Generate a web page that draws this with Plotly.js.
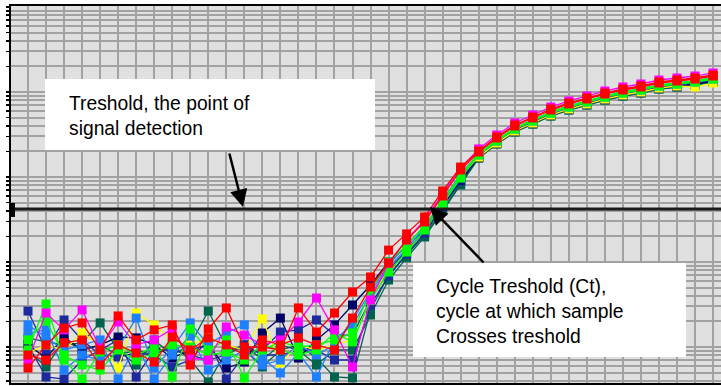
<!DOCTYPE html>
<html>
<head>
<meta charset="utf-8">
<script src="https://cdn.plot.ly/plotly-3.0.1.min.js"></script>
<style>
  html, body { margin: 0; padding: 0; background: #ffffff; }
  #chart { width: 721px; height: 386px; }
</style>
</head>
<body>
<div id="chart"></div>
<script>
// PCR cycle numbers
const cycles = [1,2,3,4,5,6,7,8,9,10,11,12,13,14,15,16,17,18,19,20,21,22,23,24,25,26,27,28,29,30,31,32,33,34,35,36,37,38,39];

// Fluorescence (delta Rn) per sample
const redA = [0.000566,0.00106,0.00167,0.00192,0.000922,0.00232,0.00121,0.00159,0.00182,0.000614,0.00163,0.00288,0.001,0.001,0.000922,0.00288,0.0015,0.00251,0.00444,0.00666,0.0138,0.0214,0.0339,0.0685,0.131,0.202,0.296,0.409,0.508,0.631,0.742,0.85,0.973,1.085,1.177,1.311,1.384,1.461,1.585];
const redB = [0.000805,0.000703,0.00112,0.00121,0.000614,0.00106,0.00085,0.000666,0.00131,0.000922,0.00128,0.00106,0.000805,0.00121,0.00106,0.00128,0.00106,0.000922,0.00219,0.00508,0.00973,0.0182,0.0296,0.0598,0.121,0.197,0.288,0.398,0.495,0.614,0.723,0.827,0.947,1.056,1.145,1.276,1.347,1.422,1.542];
const magentaA = [0.000703,0.00251,0.00159,0.00273,0.000973,0.00197,0.00106,0.00121,0.00163,0.000742,0.000703,0.00172,0.00138,0.00106,0.00121,0.00197,0.00377,0.00159,0.000582,0.00357,0.00973,0.0182,0.0312,0.0631,0.128,0.214,0.312,0.432,0.536,0.666,0.784,0.897,1.027,1.145,1.242,1.384,1.461,1.542,1.674];
const greenA = [0.000922,0.00321,0.000703,0.00042,0.000873,0.00106,0.000805,0.001,0.000444,0.00163,0.000922,0.00121,0.000432,0.000922,0.00115,0.001,0.00106,0.00121,0.00146,0.00469,0.01,0.0159,0.0265,0.0536,0.106,0.187,0.273,0.377,0.469,0.582,0.685,0.784,0.897,1.0,1.085,1.209,1.276,1.347,1.461];
const greenB = [0.00121,0.00202,0.000805,0.000614,0.000536,0.000922,0.000703,0.00085,0.00106,0.001,0.000805,0.000873,0.000703,0.00106,0.000922,0.000805,0.000922,0.00146,0.00115,0.00357,0.00763,0.0131,0.0238,0.0481,0.0973,0.182,0.265,0.367,0.456,0.566,0.666,0.763,0.873,0.973,1.056,1.177,1.242,1.311,1.422];
const blueA = [0.00146,0.00159,0.000536,0.000805,0.000703,0.000973,0.00219,0.000566,0.000973,0.00192,0.00106,0.00146,0.00182,0.000742,0.000495,0.00085,0.000444,0.00121,0.00182,0.00409,0.0085,0.0146,0.0251,0.0495,0.1,0.182,0.265,0.367,0.456,0.566,0.666,0.763,0.873,0.973,1.056,1.177,1.242,1.311,1.422];
const blueB = [0.00182,0.00128,0.000922,0.00106,0.00121,0.00042,0.00106,0.00042,0.000805,0.00135,0.000536,0.000703,0.000922,0.000614,0.000703,0.00106,0.000805,0.00106,0.00208,0.00444,0.00922,0.0159,0.0265,0.0536,0.109,0.187,0.273,0.377,0.469,0.582,0.685,0.784,0.897,1.0,1.085,1.209,1.276,1.347,1.461];
const navyA = [0.00106,0.000742,0.00131,0.000922,0.00106,0.00131,0.00128,0.00106,0.000742,0.000922,0.00106,0.000566,0.000666,0.00146,0.00219,0.000742,0.00121,0.00182,0.00312,0.00536,0.01,0.0154,0.0238,0.0456,0.0922,0.172,0.251,0.348,0.432,0.536,0.631,0.723,0.827,0.922,1.0,1.114,1.177,1.242,1.347];
const darkBlueA = [0.00265,0.000922,0.00208,0.00121,0.000805,0.000763,0.00085,0.000805,0.000582,0.000703,0.00121,0.00042,0.000805,0.000922,0.0015,0.00159,0.00208,0.00138,0.00138,0.00357,0.00805,0.0138,0.0232,0.0469,0.0947,0.177,0.258,0.357,0.444,0.551,0.648,0.742,0.85,0.947,1.027,1.145,1.209,1.276,1.384];
const darkBlueB = [0.00106,0.000444,0.00042,0.000703,0.000922,0.00121,0.000444,0.000922,0.000922,0.000805,0.000703,0.000805,0.00106,0.000805,0.000805,0.000922,0.000922,0.000703,0.000703,0.00312,0.00685,0.0124,0.0219,0.0444,0.0897,0.172,0.251,0.348,0.432,0.536,0.631,0.723,0.827,0.922,1.0,1.114,1.177,1.242,1.347];
const tealA = [0.00128,0.00115,0.00106,0.00112,0.00192,0.000922,0.000614,0.00121,0.000805,0.00106,0.00265,0.001,0.000922,0.000582,0.000922,0.00106,0.000742,0.000444,0.000432,0.00273,0.00703,0.0121,0.0208,0.0409,0.085,0.167,0.245,0.339,0.42,0.522,0.614,0.703,0.805,0.897,0.973,1.085,1.145,1.209,1.311];
const tealB = [0.000922,0.000582,0.00121,0.000922,0.00106,0.000805,0.000922,0.000805,0.00106,0.000703,0.000388,0.000873,0.00106,0.000703,0.00106,0.000922,0.000614,0.000922,0.000922,0.00238,0.00614,0.0112,0.0197,0.0398,0.0805,0.167,0.245,0.339,0.42,0.522,0.614,0.703,0.805,0.897,0.973,1.085,1.145,1.209,1.311];
const yellowA = [0.00085,0.00106,0.000922,0.00146,0.00106,0.000566,0.00251,0.00182,0.00121,0.00106,0.00128,0.00106,0.000922,0.00214,0.000648,0.00106,0.000922,0.00106,0.00121,0.00357,0.0085,0.015,0.0258,0.0522,0.103,0.172,0.251,0.348,0.432,0.536,0.631,0.723,0.827,0.922,1.0,1.114,1.177,1.145,1.276];

// Threshold level
const thresholdValue = 0.042;

// Annotation texts
const noteThreshold = "Treshold, the point of<br>signal detection";
const noteCt = "Cycle Treshold (Ct),<br>cycle at which sample<br>Crosses treshold";

const series = [
  {y: tealB, color: '#00634d'},
  {y: tealA, color: '#00634d'},
  {y: darkBlueB, color: '#1c2a9c'},
  {y: navyA, color: '#000064'},
  {y: darkBlueA, color: '#1c2a9c'},
  {y: yellowA, color: '#ffff00'},
  {y: blueB, color: '#1e80ff'},
  {y: blueA, color: '#1e80ff'},
  {y: greenB, color: '#00ff00'},
  {y: greenA, color: '#00ff00'},
  {y: magentaA, color: '#ff00ff'},
  {y: redB, color: '#ff0000'},
  {y: redA, color: '#ff0000'}
];

const traces = series.map(s => ({
  type: 'scatter',
  mode: 'lines+markers',
  x: cycles,
  y: s.y,
  line: {color: s.color, width: 1.3},
  marker: {color: s.color, size: 9, symbol: 'square', line: {width: 0}},
  hoverinfo: 'skip'
}));

// log grid positions (1..9 per decade)
const gridVals = [];
for (let k = -4; k <= 1; k++) {
  for (let m = 1; m <= 9; m++) gridVals.push(m * Math.pow(10, k));
}

const W = 721, H = 386, L = 11, T = 6, B = 3, R = 0;
const pw = W - L - R, ph = H - T - B;
const px = v => (v - L) / pw;
const py = v => (H - B - v) / ph;

const layout = {
  width: W, height: H,
  margin: {l: L, r: R, t: T, b: B, pad: 0},
  paper_bgcolor: '#ffffff',
  plot_bgcolor: '#e0e0e0',
  showlegend: false,
  font: {family: '"Liberation Sans", Arial, sans-serif', color: '#000000'},
  xaxis: {
    range: [0.057, 39.44],
    dtick: 1, tick0: 0,
    showgrid: true, gridcolor: '#a2a2a2', gridwidth: 2,
    zeroline: false, showticklabels: false, ticks: '',
    showline: true, linecolor: '#000000', linewidth: 2, mirror: true
  },
  yaxis: {
    type: 'log',
    range: [-3.4235, 1.0118],
    tickmode: 'array', tickvals: gridVals,
    showgrid: true, gridcolor: '#a2a2a2', gridwidth: 2,
    zeroline: false, showticklabels: false,
    ticks: 'outside', ticklen: 3, tickwidth: 1.5, tickcolor: '#000000',
    showline: true, linecolor: '#000000', linewidth: 2, mirror: false
  },
  shapes: [
    {type: 'line', xref: 'paper', yref: 'y', x0: 0, x1: 1, y0: thresholdValue, y1: thresholdValue,
     line: {color: '#1a1a1a', width: 3}, layer: 'above'},
    {type: 'rect', xref: 'paper', yref: 'y', x0: px(10), x1: px(15), y0: 0.0339, y1: 0.0495,
     fillcolor: '#000000', line: {width: 0}, layer: 'above'},
    {type: 'rect', xref: 'paper', yref: 'paper', x0: px(45), x1: px(375), y0: py(150), y1: py(79),
     fillcolor: '#ffffff', line: {width: 0}, layer: 'above'},
    {type: 'rect', xref: 'paper', yref: 'paper', x0: px(413), x1: px(686), y0: py(357), y1: py(263),
     fillcolor: '#ffffff', line: {width: 0}, layer: 'above'}
  ],
  annotations: [
    {xref: 'paper', yref: 'paper', x: px(67), y: py(116), xanchor: 'left', yanchor: 'middle',
     align: 'left', showarrow: false, text: noteThreshold,
     font: {family: '"Liberation Sans", Arial, sans-serif', size: 19.3, color: '#000000'}},
    {xref: 'paper', yref: 'paper', x: px(434), y: py(311), xanchor: 'left', yanchor: 'middle',
     align: 'left', showarrow: false, text: noteCt,
     font: {family: '"Liberation Sans", Arial, sans-serif', size: 19.3, color: '#000000'}},
    {xref: 'paper', yref: 'paper', x: px(243), y: py(207), text: '', showarrow: true,
     ax: -14, ay: -55, arrowhead: 2, arrowsize: 1.4, arrowwidth: 2.5, arrowcolor: '#000000', standoff: 0},
    {xref: 'paper', yref: 'paper', x: px(430), y: py(207), text: '', showarrow: true,
     ax: 55, ay: 57, arrowhead: 2, arrowsize: 1.4, arrowwidth: 2.5, arrowcolor: '#000000', standoff: 0}
  ]
};

Plotly.newPlot('chart', traces, layout, {displayModeBar: false, staticPlot: true});
</script>
</body>
</html>
